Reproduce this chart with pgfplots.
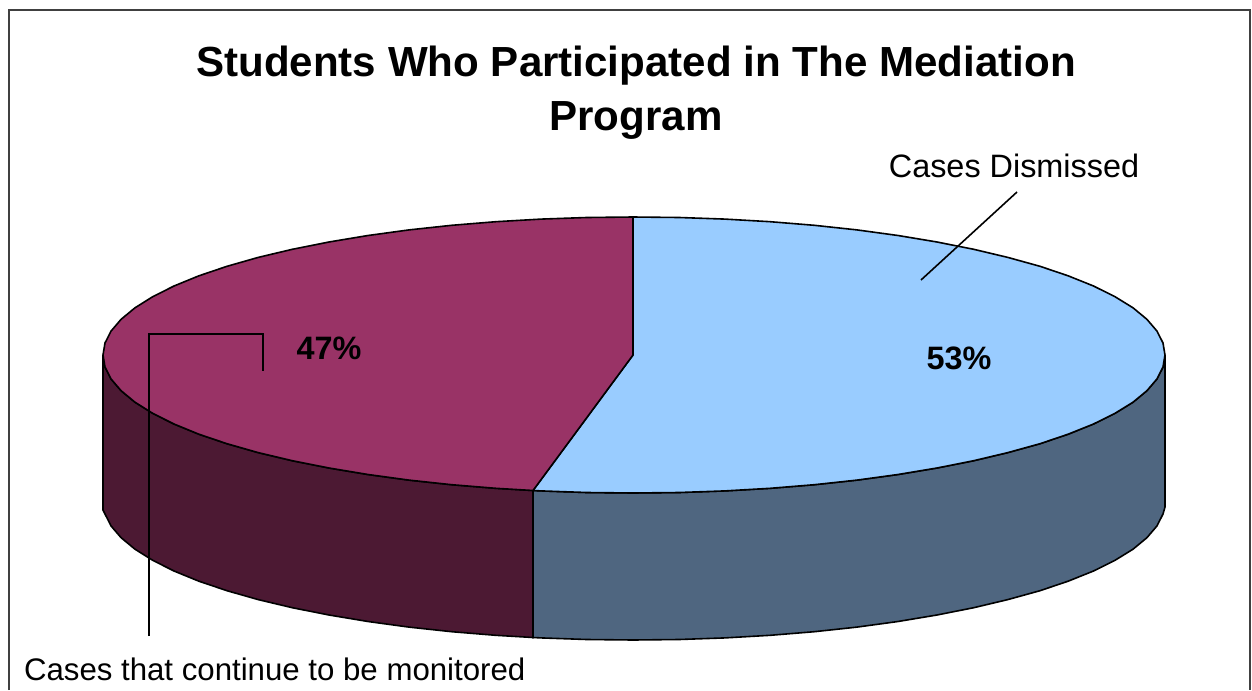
\documentclass[border=0pt]{standalone}
\usepackage{pgfplots}
\pgfplotsset{compat=1.18}
\usepackage{fontspec}
\setmainfont{Liberation Sans}
\definecolor{lblue}{HTML}{99CCFF}
\definecolor{dblue}{HTML}{4F6680}
\definecolor{lmar}{HTML}{993366}
\definecolor{dmar}{HTML}{4C1933}
\begin{document}
\begin{tikzpicture}
\begin{axis}[at={(0,0)},anchor=south west,width=626pt,height=345pt,scale only axis,
  xmin=0,xmax=1252,ymin=0,ymax=690,y dir=reverse,hide axis,clip=false]
\path (axis cs:0,0) rectangle (axis cs:1252,690);
% frame
\addplot[color=black!75,line width=0.7pt] coordinates {(9,690) (9,10) (1250,10) (1250,690)};
% right side wall
\addplot[draw=black,line width=0.8pt,fill=dblue] coordinates {
(1165,355)(1163,367)(1156.9,379)(1146.9,390.7)(1133,402.2)(1115,413.3)(1093.5,424)(1068.1,434.2)(1040,443.7)(1007.8,452.6)(973.7,460.7)(937,468)(898,474.5)(857,480.1)(814.3,484.7)(770.2,488.3)(725,490.9)(679.2,492.5)(633,493)(586.8,492.5)(541,490.9)(533,490.5)
(533,637.5)(541,637.9)(586.8,639.5)(633,640)(679.2,639.5)(725,637.9)(770.2,635.3)(814.3,631.7)(857,627.1)(898,621.5)(937,615)(973.7,607.7)(1007.8,599.6)(1040,590.7)(1068.1,581.2)(1093.5,571)(1115,560.3)(1133,549.2)(1146.9,537.7)(1156.9,526)(1163,514)(1165,507)(1165,355)};
% left side wall
\addplot[draw=black,line width=0.8pt,fill=dmar] coordinates {
(533,490.5)(495.8,488.3)(451.7,484.7)(409,480.1)(368,474.5)(329,468)(292.3,460.7)(258.2,452.6)(227,443.7)(198.9,434.2)(174,424)(152.7,413.3)(135,402.2)(121.1,390.7)(111.1,379)(105,367)(103,355)
(103,510)(105,514)(111.1,526)(121.1,537.7)(135,549.2)(152.7,560.3)(174,571)(198.9,581.2)(227,590.7)(258.2,599.6)(292.3,607.7)(329,615)(368,621.5)(409,627.1)(451.7,631.7)(495.8,635.3)(533,637.5)(533,490.5)};
% blue top
\addplot[draw=black,line width=0.8pt,fill=lblue] coordinates {
(633,355)(633,217)(679.2,217.5)(725,219.1)(770.2,221.7)(814.3,225.3)(857,229.9)(898,235.5)(937,242)(973.7,249.3)(1007.8,257.4)(1040,266.3)(1068.1,275.8)(1093.5,286)(1115,296.7)(1133,307.8)(1146.9,319.3)(1156.9,331)(1163,343)(1165,355)(1163,367)(1156.9,379)(1146.9,390.7)(1133,402.2)(1115,413.3)(1093.5,424)(1068.1,434.2)(1040,443.7)(1007.8,452.6)(973.7,460.7)(937,468)(898,474.5)(857,480.1)(814.3,484.7)(770.2,488.3)(725,490.9)(679.2,492.5)(633,493)(586.8,492.5)(541,490.9)(533,490.5)(633,355)};
% maroon top
\addplot[draw=black,line width=0.8pt,fill=lmar] coordinates {
(633,355)(533,490.5)(495.8,488.3)(451.7,484.7)(409,480.1)(368,474.5)(329,468)(292.3,460.7)(258.2,452.6)(227,443.7)(198.9,434.2)(174,424)(152.7,413.3)(135,402.2)(121.1,390.7)(111.1,379)(105,367)(103,355)(105,343)(111.1,331)(121.1,319.3)(135,307.8)(152.7,296.7)(174,286)(198.9,275.8)(227,266.3)(258.2,257.4)(292.3,249.3)(329,242)(368,235.5)(409,229.9)(451.7,225.3)(495.8,221.7)(541,219.1)(586.8,217.5)(633,217)(633,355)};
% leaders
\addplot[black,line width=0.8pt] coordinates {(1017,192)(921,280)};
\addplot[black,line width=0.8pt] coordinates {(149,636)(149,334)(263,334)(263,371)};
% text
\node[font=\bfseries\fontsize{21.05}{27}\selectfont,anchor=base] at (axis cs:636,76) {Students Who Participated in The Mediation};
\node[font=\bfseries\fontsize{21.05}{27}\selectfont,anchor=base] at (axis cs:636,130) {Program};
\node[font=\fontsize{16.2}{18}\selectfont,anchor=base] at (axis cs:1014,177) {Cases Dismissed};
\node[font=\fontsize{15.6}{18}\selectfont,anchor=base west] at (axis cs:17,680) {Cases that continue to be monitored};
\node[font=\bfseries\fontsize{16.2}{18}\selectfont,anchor=base] at (axis cs:329,359) {47\%};
\node[font=\bfseries\fontsize{16.2}{18}\selectfont,anchor=base] at (axis cs:959,369) {53\%};
\end{axis}
\end{tikzpicture}
\end{document}
